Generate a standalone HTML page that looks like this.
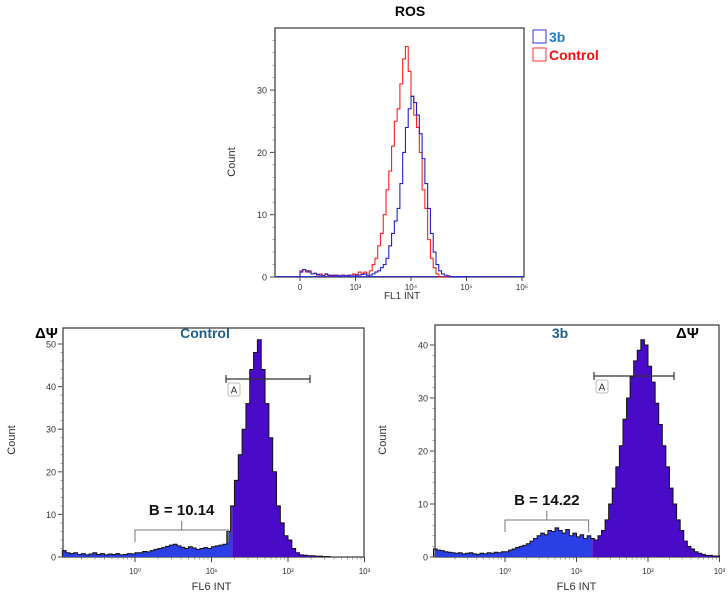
<!DOCTYPE html>
<html><head><meta charset="utf-8"><style>
body{margin:0;background:#fff;}
svg{display:block;font-family:"Liberation Sans",sans-serif;}
</style></head><body>
<svg id="s" width="728" height="596" viewBox="0 0 728 596">
<text x="410" y="16" font-size="14" font-weight="bold" text-anchor="middle">ROS</text>
<g>
<rect x="533" y="30" width="13" height="13" fill="none" stroke="#3333dd"/>
<text x="549" y="42" font-size="14" font-weight="bold" fill="#1a7fc8">3b</text>
<rect x="533" y="48" width="13" height="13" fill="none" stroke="#ff3333"/>
<text x="549" y="60" font-size="14" font-weight="bold" fill="#ee1111">Control</text>
</g>
<text x="35" y="338" font-size="15" font-weight="bold">ΔΨ</text>
<text x="205" y="338" font-size="14" font-weight="bold" fill="#1f5f8b" text-anchor="middle">Control</text>
<text x="560" y="338" font-size="14" font-weight="bold" fill="#1f5f8b" text-anchor="middle">3b</text>
<text x="676" y="338" font-size="15" font-weight="bold">ΔΨ</text>
</svg>
<script>
// ROS histogram (x = log10 intensity, starting 2.0 at "0" label, step 0.05)
const rosStart = 2.0, rosStep = 0.05;
const rosControl = [1,1.2,0.8,1,0.5,0.6,0.3,0.5,0.2,0.4,0.2,0.3,0.2,0.3,0.2,0.3,0.2,0.3,0.3,0.5,0.4,0.8,0.6,0.8,
  0.5,1,2,3,5,7,10,14,17,21,25,27,31,35,37,33,29,26,24,20,14,11,6,3,1.5,0.5,0,
  0,0,0,0,0,0,0,0,0];
const ros3b = [0.8,1.2,1,0.8,0.5,0.6,0.4,0.3,0.2,0.5,0.3,0.2,0.3,0.2,0.2,0.3,0.2,0.2,0.3,0.3,0.2,0.3,0.4,0.5,
  0.2,0.3,0.5,0.8,1,1.5,2,3,5,7,9,11,15,20,24,27,29,28,26,23,19,15,11,7,4,2,1,0.5,0.3,0.2,
  0,0,0,0,0,0];
const rosYTicks = [0,10,20,30];
const rosXTicks = ["0","10³","10⁴","10⁵","10⁶"];
// Mitochondrial potential histograms (log10 FL6, step 0.05)
const ctlStart = -0.95, ctlStep = 0.05;
const ctlCounts = [1.5,1,0.8,1,0.6,0.8,0.5,0.7,1,0.6,0.8,0.5,0.7,0.6,0.8,0.5,0.6,0.8,0.7,1,1,1.3,1.2,1.5,1.8,2,2.2,2.5,2.8,3,2.6,2.3,2,2.4,2.1,1.8,2,2.2,2,2.4,2.6,2.8,3,6,12,18,24,30,36,44,48,51,44,36,28,20,12,8,5,4,2,1,0.5,0.4,0.3,0.3,0.2,0.2,0.1,0.1];
const ctlYTicks = [0,10,20,30,40,50];
const b3Start = -1.0, b3Step = 0.05;
const b3Counts = [1.5,1.3,1.2,1,0.9,0.8,0.7,0.8,0.6,0.7,0.8,0.6,0.5,0.7,0.6,0.8,0.7,0.9,0.8,1,
  1,1.3,1.5,1.8,2,2.2,2.5,3,3.5,4,4.5,4.2,5,4.8,5.5,5,4.5,5.2,4,4.5,
  3.8,4.2,3.5,4,3.5,3.2,4,5,7,10,13,17,21,26,30,34,37,39,41,40,
  36,33,29,25,21,17,13,10,7,5,3,2,1.5,1,0.7,0.5,0.3,0.3,0.2,0.2];
const b3YTicks = [0,10,20,30,40];
const fl6XTicks = ["10⁰","10¹","10²","10³"];
const gateB = [10.14, 14.22];

const svg = document.getElementById('s');
const NS = 'http://www.w3.org/2000/svg';
function mk(tag, attrs, parent){const e=document.createElementNS(NS,tag);for(const k in attrs)e.setAttribute(k,attrs[k]);(parent||svg).appendChild(e);return e;}

// ---------- ROS panel ----------
const R = {l:275,r:524,t:28,b:277};
const rx = d => 300 + (d-2)*55.5;
const ry = v => R.b - v*6.23;
const rosG = mk('g',{});


const rf = mk('rect',{x:R.l,y:R.t,width:R.r-R.l,height:R.b-R.t,fill:'none',stroke:'#444','stroke-width':1.3},rosG);


rosYTicks.forEach(v=>{
  mk('line',{x1:R.l-5,x2:R.l,y1:ry(v),y2:ry(v),stroke:'#444'},rosG);
  const t=mk('text',{x:R.l-8,y:ry(v)+3.5,'font-size':9,'text-anchor':'end',fill:'#333'},rosG);t.textContent=v;
  
  
});
for(let v=0;v<=38;v+=2){mk('line',{x1:R.l-2.5,x2:R.l,y1:ry(v),y2:ry(v),stroke:'#666','stroke-width':0.6},rosG);}
rosXTicks.forEach((lab,i)=>{
  const x=rx(2+i);
  mk('line',{x1:x,x2:x,y1:R.b,y2:R.b+4,stroke:'#444'},rosG);
  const t=mk('text',{x:x,y:R.b+13,'font-size':8,'text-anchor':'middle',fill:'#333'},rosG);t.textContent=lab;
  
  
});
const ryl=mk('text',{x:235,y:162,'font-size':11,'text-anchor':'middle',fill:'#333',transform:'rotate(-90 235 162)'},rosG);ryl.textContent='Count';


const rxl=mk('text',{x:402,y:299,'font-size':10,'text-anchor':'middle',fill:'#333'},rosG);rxl.textContent='FL1 INT';


function stepPath(arr,start,step,fx,fy,base){
  let d='M'+fx(start)+','+base;
  arr.forEach((v,i)=>{const x0=fx(start+i*step),x1=fx(start+(i+1)*step);d+=' L'+x0+','+fy(v)+' L'+x1+','+fy(v);});
  return d+' L'+fx(start+arr.length*step)+','+base;
}
mk('line',{x1:R.l,x2:R.r,y1:R.b-0.5,y2:R.b-0.5,stroke:'#3333dd'},rosG);
const rc=mk('path',{d:stepPath(rosControl,rosStart,rosStep,rx,ry,R.b),fill:'none',stroke:'#ff2020','stroke-width':1.1},rosG);


const rb=mk('path',{d:stepPath(ros3b,rosStart,rosStep,rx,ry,R.b),fill:'none',stroke:'#2222cc','stroke-width':1.1},rosG);



// ---------- FL6 panels ----------
function panel(cfg){
  const g=mk('g',{});
  
  
  const fx=v=>cfg.x0+v*cfg.dec, fy=v=>cfg.b - v*cfg.unit;
  const f=mk('rect',{x:cfg.l,y:cfg.t,width:cfg.r-cfg.l,height:cfg.b-cfg.t,fill:'none',stroke:'#444','stroke-width':1.3},g);
  
  
  const gate=cfg.gateLog;
  const clip=mk('clipPath',{id:cfg.name+'-c1'},g);mk('rect',{x:cfg.l,y:cfg.t,width:fx(gate)-cfg.l,height:cfg.b-cfg.t},clip);
  const clip2=mk('clipPath',{id:cfg.name+'-c2'},g);mk('rect',{x:fx(gate),y:cfg.t,width:cfg.r-fx(gate),height:cfg.b-cfg.t},clip2);
  const d=stepPath(cfg.counts,cfg.start,cfg.step,fx,fy,cfg.b);
  const a1=mk('path',{d:d,fill:'#2b3fe6','clip-path':'url(#'+cfg.name+'-c1)'},g);
  
  
  const a2=mk('path',{d:d,fill:'#4a0bc8','clip-path':'url(#'+cfg.name+'-c2)'},g);
  
  
  const o=mk('path',{d:d,fill:'none',stroke:'#111','stroke-width':1},g);
  
  
  cfg.yt.forEach(v=>{
    mk('line',{x1:cfg.l-5,x2:cfg.l,y1:fy(v),y2:fy(v),stroke:'#444'},g);
    const t=mk('text',{x:cfg.l-7,y:fy(v)+3.5,'font-size':9,'text-anchor':'end',fill:'#333'},g);t.textContent=v;
    
    
  });
  for(let v=0;v<=cfg.yt[cfg.yt.length-1];v+=2)mk('line',{x1:cfg.l-2.5,x2:cfg.l,y1:fy(v),y2:fy(v),stroke:'#666','stroke-width':0.6},g);
  fl6XTicks.forEach((lab,i)=>{
    const x=fx(i);
    mk('line',{x1:x,x2:x,y1:cfg.b,y2:cfg.b+5,stroke:'#444'},g);
    for(let k=2;k<10&&i<3;k++){const xm=fx(i+Math.log10(k));mk('line',{x1:xm,x2:xm,y1:cfg.b,y2:cfg.b+2.5,stroke:'#666','stroke-width':0.6},g);}
    const t=mk('text',{x:x,y:cfg.b+17,'font-size':8,'text-anchor':'middle',fill:'#333'},g);t.textContent=lab;
    
    
  });
  for(let k=2;k<10;k++){const xm=fx(-1+Math.log10(k));if(xm>cfg.l)mk('line',{x1:xm,x2:xm,y1:cfg.b,y2:cfg.b+2.5,stroke:'#666','stroke-width':0.6},g);}
  const yl=mk('text',{x:cfg.yl,y:440,'font-size':11,'text-anchor':'middle',fill:'#333',transform:'rotate(-90 '+cfg.yl+' 440)'},g);yl.textContent='Count';
  
  
  const xl=mk('text',{x:fx(1),y:590,'font-size':11,'text-anchor':'middle',fill:'#333'},g);xl.textContent='FL6 INT';
  
  
  const ga=mk('path',{d:`M${cfg.ax1},${cfg.ay} H${cfg.ax2} M${cfg.ax1},${cfg.ay-4} V${cfg.ay+4} M${cfg.ax2},${cfg.ay-4} V${cfg.ay+4}`,stroke:'#333','stroke-width':1.2,fill:'none'},g);
  
  
  const ab=mk('rect',{x:cfg.ax1+2,y:cfg.ay+4,width:12,height:13,rx:2,fill:'#fff',stroke:'#bbb'},g);
  
  
  const at=mk('text',{x:cfg.ax1+8,y:cfg.ay+14.5,'font-size':10,'text-anchor':'middle',fill:'#333'},g);at.textContent='A';
  
  
  const bx1=fx(0), bx2=fx(cfg.gateLog-0.05), mid=(bx1+bx2)/2;
  const gb=mk('path',{d:`M${bx1},${cfg.by+12} V${cfg.by} H${bx2} V${cfg.by+12} M${mid},${cfg.by} V${cfg.by-9}`,stroke:'#777','stroke-width':1,fill:'none'},g);
  
  
  const bt=mk('text',{x:mid,y:cfg.by-15,'font-size':15,'font-weight':'bold','text-anchor':'middle',fill:'#111'},g);bt.textContent='B = '+cfg.bval.toFixed(2);
  
  
}
panel({name:'control-panel',l:63,r:364,t:328,b:557,x0:135,dec:76.5,unit:4.26,counts:ctlCounts,start:ctlStart,step:ctlStep,yt:ctlYTicks,gateLog:1.27,yl:15,ax1:226,ax2:310,ay:379,by:530,bval:gateB[0]});
panel({name:'3b-panel',l:435,r:719,t:325,b:557,x0:505,dec:71.5,unit:5.3,counts:b3Counts,start:b3Start,step:b3Step,yt:b3YTicks,gateLog:1.22,yl:386,ax1:594,ax2:674,ay:376,by:520,bval:gateB[1]});
</script>
</body></html>
